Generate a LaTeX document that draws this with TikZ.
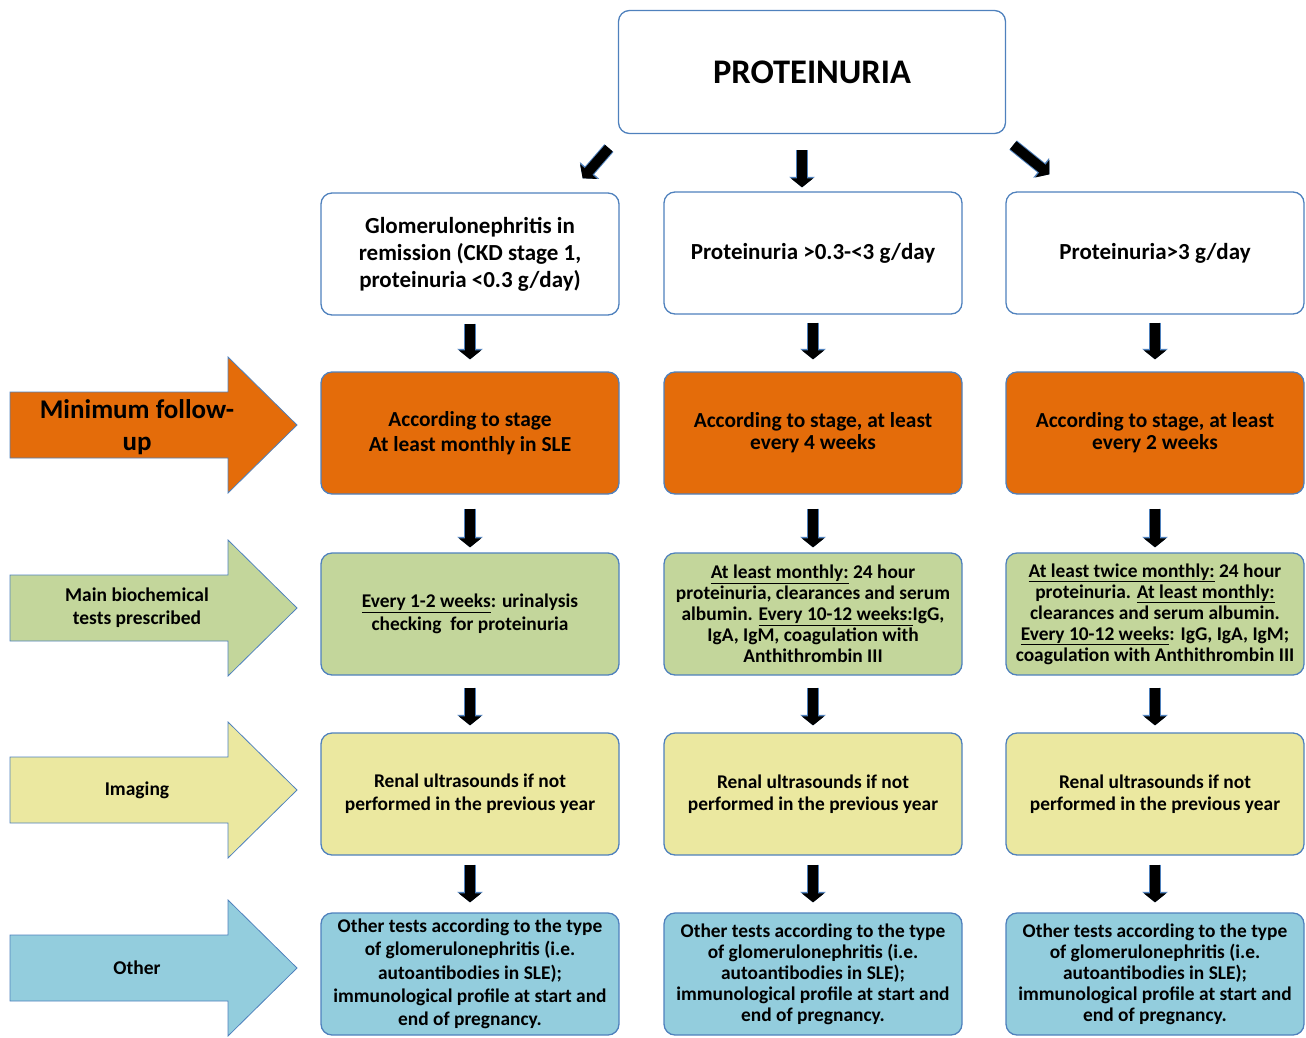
\documentclass[tikz,border=0pt]{standalone}
\usepackage{fontspec}
\setmainfont{Carlito}
\usetikzlibrary{arrows.meta}

\definecolor{boxblue}{HTML}{4F81BD}
\definecolor{fuorange}{HTML}{E46C0A}
\definecolor{testgreen}{HTML}{C3D69B}
\definecolor{imgyellow}{HTML}{EBE8A0}
\definecolor{otherblue}{HTML}{93CDDD}

\tikzset{
  stepbox/.style={draw=boxblue, line width=1.3pt, rounded corners=11pt,
    minimum width=298pt, minimum height=122pt, align=center, inner sep=0pt},
  blockarrow/.style={black, line width=10pt, -{Triangle[width=22pt,length=9pt]},
    preaction={draw=boxblue, line width=12pt, -{Triangle[width=25pt,length=10.5pt]}}},
  sidearrow/.style={draw=boxblue, line width=0.8pt, line join=miter},
  sidelabel/.style={align=center, font=\bfseries\fontsize{19.5}{23}\selectfont}
}

\begin{document}
\begin{tikzpicture}[x=1pt, y=-1pt]
\useasboundingbox (0,0) rectangle (1306,1037);

% top box
\node[stepbox, minimum width=387pt, minimum height=123pt,
  font=\bfseries\fontsize{34.5}{40}\selectfont] (top) at (812,72) {PROTEINURIA};

% first row: stage
\node[stepbox, fill=white, font=\bfseries\fontsize{23}{27}\selectfont] (stageA) at (470,254)
  {Glomerulonephritis in\\remission (CKD stage 1,\\proteinuria <0.3 g/day)};
\node[stepbox, fill=white, font=\bfseries\fontsize{23}{27}\selectfont] (stageB) at (813,253)
  {Proteinuria >0.3-<3 g/day};
\node[stepbox, fill=white, font=\bfseries\fontsize{23}{27}\selectfont] (stageC) at (1155,253)
  {Proteinuria>3 g/day};

% second row: follow-up
\node[stepbox, fill=fuorange, font=\bfseries\fontsize{21.4}{25}\selectfont] (followA) at (470,433)
  {According to stage\\At least monthly in SLE};
\node[stepbox, fill=fuorange, font=\bfseries\fontsize{21.4}{22}\selectfont] (followB) at (813,433)
  {According to stage, at least\\every 4 weeks};
\node[stepbox, fill=fuorange, font=\bfseries\fontsize{21.4}{22}\selectfont] (followC) at (1155,433)
  {According to stage, at least\\every 2 weeks};

% third row: tests
\node[stepbox, fill=testgreen, font=\bfseries\fontsize{19.4}{23}\selectfont] (testsA) at (470,614)
  {\underline{Every 1-2 weeks}: urinalysis\\checking\ \ for proteinuria};
\node[stepbox, fill=testgreen, font=\bfseries\fontsize{19.4}{21}\selectfont] (testsB) at (813,614)
  {\underline{At least monthly:} 24 hour\\proteinuria, clearances and serum\\albumin. \underline{Every 10-12 weeks:}IgG,\\IgA, IgM, coagulation with\\Anthithrombin III};
\node[stepbox, fill=testgreen, font=\bfseries\fontsize{19.4}{21}\selectfont] (testsC) at (1155,614)
  {\underline{At least twice monthly:} 24 hour\\proteinuria. \underline{At least monthly:}\\clearances and serum albumin.\\\underline{Every 10-12 weeks}: IgG, IgA, IgM;\\coagulation with Anthithrombin III};

% fourth row: imaging
\node[stepbox, fill=imgyellow, font=\bfseries\fontsize{19.4}{23}\selectfont] (imageA) at (470,794)
  {Renal ultrasounds if not\\performed in the previous year};
\node[stepbox, fill=imgyellow, font=\bfseries\fontsize{19.4}{22}\selectfont] (imageB) at (813,794)
  {Renal ultrasounds if not\\performed in the previous year};
\node[stepbox, fill=imgyellow, font=\bfseries\fontsize{19.4}{22}\selectfont] (imageC) at (1155,794)
  {Renal ultrasounds if not\\performed in the previous year};

% fifth row: other
\node[stepbox, fill=otherblue, font=\bfseries\fontsize{19.4}{23.3}\selectfont] (otherA) at (470,974)
  {Other tests according to the type\\of glomerulonephritis (i.e.\\autoantibodies in SLE);\\immunological profile at start and\\end of pregnancy.};
\node[stepbox, fill=otherblue, font=\bfseries\fontsize{19.4}{21}\selectfont] (otherB) at (813,974)
  {Other tests according to the type\\of glomerulonephritis (i.e.\\autoantibodies in SLE);\\immunological profile at start and\\end of pregnancy.};
\node[stepbox, fill=otherblue, font=\bfseries\fontsize{19.4}{21}\selectfont] (otherC) at (1155,974)
  {Other tests according to the type\\of glomerulonephritis (i.e.\\autoantibodies in SLE);\\immunological profile at start and\\end of pregnancy.};

% side arrows
\foreach \c/\col in {425/fuorange, 608/testgreen, 790/imgyellow, 968/otherblue}
  \draw[sidearrow, fill=\col] (10,\c-33) -- (228,\c-33) -- (228,\c-68) -- (297,\c)
    -- (228,\c+68) -- (228,\c+33) -- (10,\c+33) -- cycle;

\node[sidelabel, font=\bfseries\fontsize{27}{32}\selectfont] (minfu) at (137,427) {Minimum follow-\\up};
\node[sidelabel] (maintests) at (137,608) {Main biochemical\\tests prescribed};
\node[sidelabel] (imaging) at (137,790) {Imaging};
\node[sidelabel] (other) at (137,968) {Other};

% arrows from the top box
\draw[blockarrow] ([shift={(-9,14)}]top.south west) -- ([shift={(-37,-14)}]stageA.north east);
\draw[blockarrow] ([shift={(-10,16)}]top.south) -- ([shift={(-11,-4)}]stageB.north);
\draw[blockarrow] ([shift={(7,11)}]top.south east) -- ([shift={(44,-17)}]stageC.north west);

% arrows down the columns
\foreach \col in {A,B,C} {
  \draw[blockarrow, shorten <=8pt, shorten >=12pt] (stage\col) -- (follow\col);
  \draw[blockarrow, shorten <=14pt, shorten >=5pt] (follow\col) -- (tests\col);
  \draw[blockarrow, shorten <=12pt, shorten >=7pt] (tests\col) -- (image\col);
  \draw[blockarrow, shorten <=9pt, shorten >=10pt] (image\col) -- (other\col);
}

\end{tikzpicture}
\end{document}
